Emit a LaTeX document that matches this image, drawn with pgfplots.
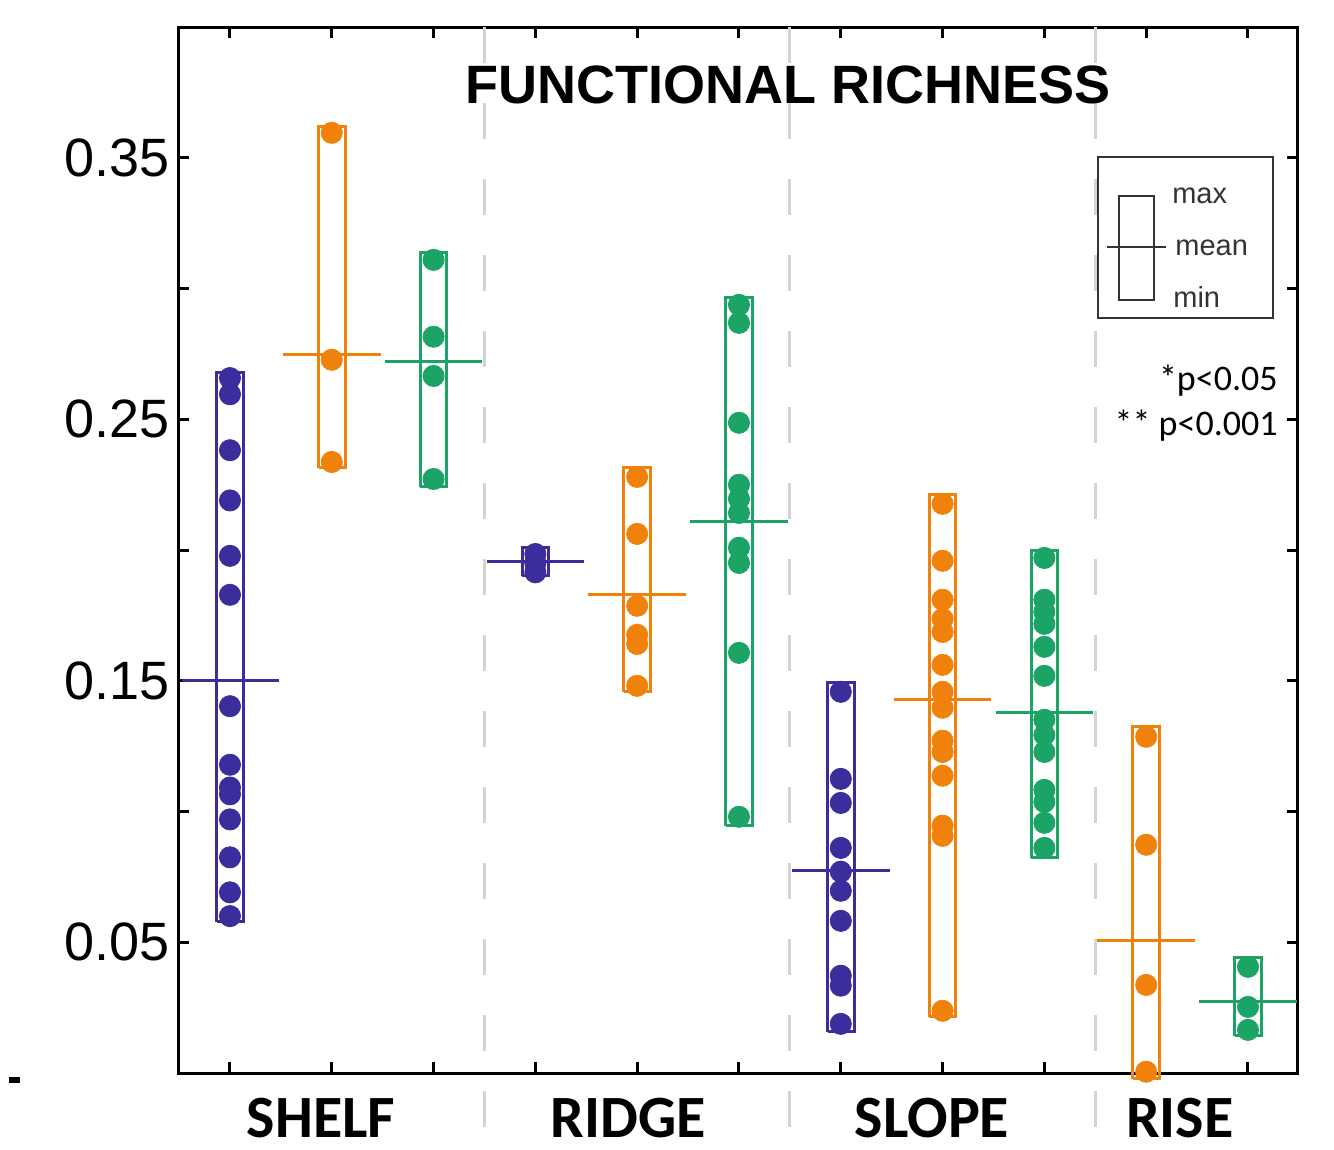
\documentclass[border=0pt]{standalone}
\usepackage{fontspec}
\setmainfont{Liberation Sans}
\newfontfamily\carlito{Carlito}
\usepackage{pgfplots}
\pgfplotsset{compat=1.18}
\definecolor{cpur}{HTML}{3B2E9C}
\definecolor{corg}{HTML}{F0820C}
\definecolor{cgrn}{HTML}{1BA466}
\definecolor{csep}{HTML}{D4D4D4}
\definecolor{cleg}{HTML}{333333}
\begin{document}
\begin{tikzpicture}
\begin{axis}[
 width=560pt, height=523pt, scale only axis,
 xmin=0.49, xmax=11.49, ymin=0, ymax=0.4,
 clip=false,
 axis line style={line width=1.5pt, black},
 xtick={1,2,3,4,5,6,7,8,9,10,11}, xticklabels={},
 ytick={0.05,0.15,0.25,0.35},
 minor ytick={0.1,0.2,0.3},
 yticklabels={0.05,0.15,0.25,0.35},
 yticklabel style={font=\fontsize{27}{27}\selectfont, inner sep=0pt, xshift=-4pt},
 tick style={line width=1.5pt, black},
 major tick length=5.5pt, minor tick length=5.5pt,
 tick align=inside,
 mark size=5.3pt,
]
% bounding frame
\path (axis cs:-1.259,-0.0293) rectangle (axis cs:11.845,0.4104);
% separators
\addplot[csep, line width=1.5pt, dash pattern=on 18pt off 20pt] coordinates {(3.5,0.4) (3.5,-0.0274)};
\addplot[csep, line width=1.5pt, dash pattern=on 18pt off 20pt] coordinates {(6.5,0.4) (6.5,-0.0274)};
\addplot[csep, line width=1.5pt, dash pattern=on 18pt off 20pt] coordinates {(9.5,0.4) (9.5,-0.0274)};

% ---------- SHELF ----------
\addplot[cpur, line width=1.5pt] coordinates {(0.87,0.0578) (1.13,0.0578) (1.13,0.2678) (0.87,0.2678) (0.87,0.0578)};
\addplot[cpur, only marks, mark=*] coordinates {(1,0.2658) (1,0.2596) (1,0.2382) (1,0.2190) (1,0.1978) (1,0.1829) (1,0.1403) (1,0.1179) (1,0.1092) (1,0.1066) (1,0.0970) (1,0.0825) (1,0.0691) (1,0.0600)};
\addplot[cpur, line width=1.5pt] coordinates {(0.53,0.150) (1.48,0.150)};

\addplot[corg, line width=1.5pt] coordinates {(1.87,0.2315) (2.13,0.2315) (2.13,0.3619) (1.87,0.3619) (1.87,0.2315)};
\addplot[corg, only marks, mark=*] coordinates {(2,0.3596) (2,0.2728) (2,0.2337)};
\addplot[corg, line width=1.5pt] coordinates {(1.52,0.2747) (2.48,0.2747)};

\addplot[cgrn, line width=1.5pt] coordinates {(2.87,0.2242) (3.13,0.2242) (3.13,0.3140) (2.87,0.3140) (2.87,0.2242)};
\addplot[cgrn, only marks, mark=*] coordinates {(3,0.3110) (3,0.2816) (3,0.2666) (3,0.2272)};
\addplot[cgrn, line width=1.5pt] coordinates {(2.52,0.2720) (3.48,0.2720)};

% ---------- RIDGE ----------
\addplot[cpur, line width=1.5pt] coordinates {(3.87,0.1901) (4.13,0.1901) (4.13,0.2009) (3.87,0.2009) (3.87,0.1901)};
\addplot[cpur, only marks, mark=*] coordinates {(4,0.1985) (4,0.1950) (4,0.1915)};
\addplot[cpur, line width=1.5pt] coordinates {(3.52,0.1955) (4.48,0.1955)};

\addplot[corg, line width=1.5pt] coordinates {(4.87,0.1458) (5.13,0.1458) (5.13,0.2315) (4.87,0.2315) (4.87,0.1458)};
\addplot[corg, only marks, mark=*] coordinates {(5,0.2280) (5,0.2062) (5,0.1787) (5,0.1676) (5,0.1641) (5,0.1481)};
\addplot[corg, line width=1.5pt] coordinates {(4.52,0.1829) (5.48,0.1829)};

\addplot[cgrn, line width=1.5pt] coordinates {(5.87,0.0946) (6.13,0.0946) (6.13,0.2965) (5.87,0.2965) (5.87,0.0946)};
\addplot[cgrn, only marks, mark=*] coordinates {(6,0.2938) (6,0.2869) (6,0.2487) (6,0.2250) (6,0.2196) (6,0.2142) (6,0.2009) (6,0.1951) (6,0.1607) (6,0.0980)};
\addplot[cgrn, line width=1.5pt] coordinates {(5.52,0.2108) (6.48,0.2108)};

% ---------- SLOPE ----------
\addplot[cpur, line width=1.5pt] coordinates {(6.87,0.0158) (7.13,0.0158) (7.13,0.1492) (6.87,0.1492) (6.87,0.0158)};
\addplot[cpur, only marks, mark=*] coordinates {(7,0.1458) (7,0.1125) (7,0.1033) (7,0.0861) (7,0.0770) (7,0.0697) (7,0.0582) (7,0.0372) (7,0.0334) (7,0.0188)};
\addplot[cpur, line width=1.5pt] coordinates {(6.52,0.0773) (7.48,0.0773)};

\addplot[corg, line width=1.5pt] coordinates {(7.87,0.0215) (8.13,0.0215) (8.13,0.2211) (7.87,0.2211) (7.87,0.0215)};
\addplot[corg, only marks, mark=*] coordinates {(8,0.2177) (8,0.1959) (8,0.1810) (8,0.1737) (8,0.1687) (8,0.1561) (8,0.1458) (8,0.1397) (8,0.1271) (8,0.1228) (8,0.1137) (8,0.0946) (8,0.0907) (8,0.0238)};
\addplot[corg, line width=1.5pt] coordinates {(7.52,0.1427) (8.48,0.1427)};

\addplot[cgrn, line width=1.5pt] coordinates {(8.87,0.0823) (9.13,0.0823) (9.13,0.1997) (8.87,0.1997) (8.87,0.0823)};
\addplot[cgrn, only marks, mark=*] coordinates {(9,0.1970) (9,0.1810) (9,0.1764) (9,0.1718) (9,0.1630) (9,0.1519) (9,0.1351) (9,0.1293) (9,0.1228) (9,0.1083) (9,0.1037) (9,0.0957) (9,0.0861)};
\addplot[cgrn, line width=1.5pt] coordinates {(8.52,0.1378) (9.48,0.1378)};

% ---------- RISE ----------
\addplot[corg, line width=1.5pt] coordinates {(9.87,-0.0022) (10.13,-0.0022) (10.13,0.1324) (9.87,0.1324) (9.87,-0.0022)};
\addplot[corg, only marks, mark=*] coordinates {(10,0.1286) (10,0.0873) (10,0.0337) (10,0.0005)};
\addplot[corg, line width=1.5pt] coordinates {(9.52,0.0506) (10.48,0.0506)};

\addplot[cgrn, line width=1.5pt] coordinates {(10.87,0.0142) (11.13,0.0142) (11.13,0.0441) (10.87,0.0441) (10.87,0.0142)};
\addplot[cgrn, only marks, mark=*] coordinates {(11,0.0406) (11,0.0253) (11,0.0165)};
\addplot[cgrn, line width=1.5pt] coordinates {(10.52,0.0272) (11.48,0.0272)};

% ---------- texts ----------
\node[font=\bfseries\fontsize{27}{27}\selectfont] at (axis cs:6.481,0.3779) {FUNCTIONAL RICHNESS};
\node[font=\carlito\bfseries\fontsize{30}{30}\selectfont, inner sep=0pt] at (axis cs:1.894,-0.0171) {SHELF};
\node[font=\carlito\bfseries\fontsize{30}{30}\selectfont, inner sep=0pt] at (axis cs:4.91,-0.0171) {RIDGE};
\node[font=\carlito\bfseries\fontsize{30}{30}\selectfont, inner sep=0pt] at (axis cs:7.896,-0.0171) {SLOPE};
\node[font=\carlito\bfseries\fontsize{30}{30}\selectfont, inner sep=0pt] at (axis cs:10.33,-0.0171) {RISE};
\node[font=\carlito\fontsize{18}{18}\selectfont, anchor=east, inner sep=0pt] at (axis cs:11.295,0.2647) {*p<0.05};
\node[font=\carlito\fontsize{18}{18}\selectfont, anchor=east, inner sep=0pt] at (axis cs:11.295,0.2475) {** p<0.001};
\node[inner sep=0pt] at (axis cs:-1.12,-0.0028) {\rule{5.5pt}{3pt}};
% legend key
\draw[cleg, line width=1pt] (axis cs:9.527,0.3504) rectangle (axis cs:11.246,0.2888);
\draw[cleg, line width=1pt] (axis cs:9.733,0.3355) rectangle (axis cs:10.077,0.2957);
\draw[cleg, line width=1pt] (axis cs:9.615,0.3160) -- (axis cs:10.194,0.3160);
\node[font=\fontsize{14.5}{14.5}\selectfont, text=cleg, anchor=west, inner sep=0pt] at (axis cs:10.253,0.3355) {max};
\node[font=\fontsize{14.5}{14.5}\selectfont, text=cleg, anchor=west, inner sep=0pt] at (axis cs:10.283,0.3156) {mean};
\node[font=\fontsize{14.5}{14.5}\selectfont, text=cleg, anchor=west, inner sep=0pt] at (axis cs:10.263,0.2968) {min};
\end{axis}
\end{tikzpicture}
\end{document}
